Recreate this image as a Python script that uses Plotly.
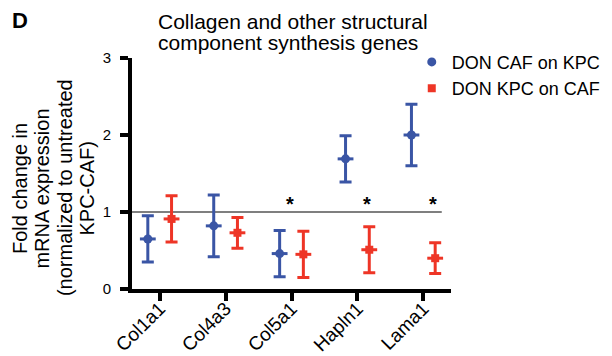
import plotly.graph_objects as go

# ---- data ----
genes = ["Col1a1", "Col4a3", "Col5a1", "Hapln1", "Lama1"]
caf_on_kpc_mean = [0.65, 0.82, 0.46, 1.69, 2.00]
caf_on_kpc_sd = [0.30, 0.40, 0.30, 0.30, 0.40]
kpc_on_caf_mean = [0.91, 0.73, 0.45, 0.51, 0.40]
kpc_on_caf_sd = [0.30, 0.20, 0.30, 0.30, 0.20]
significant = ["", "", "*", "*", "*"]
y_ticks = [0, 1, 2, 3]

BLUE = "#3a55a5"
RED = "#ee3526"
FONT = "Liberation Sans, Arial, Helvetica, sans-serif"
off = 0.18

idx = list(range(len(genes)))

fig = go.Figure()
series = [
    ("DON CAF on KPC", caf_on_kpc_mean, caf_on_kpc_sd, BLUE, "circle", 9, -off),
    ("DON KPC on CAF", kpc_on_caf_mean, kpc_on_caf_sd, RED, "square", 8, off),
]
for name, m, sd, col, sym, sz, dx in series:
    fig.add_trace(go.Scatter(
        x=[i + dx for i in idx], y=m, mode="markers", name=name,
        marker=dict(color=col, symbol=sym, size=sz, line=dict(width=0)),
        error_y=dict(type="data", array=sd, visible=True, color=col,
                     thickness=3, width=6),
        error_x=dict(type="data", array=[0.12] * len(m), visible=True,
                     color=col, thickness=3, width=0),
    ))

# reference line at 1
fig.add_shape(type="line", xref="x", yref="y", x0=-0.42, x1=4.28, y0=1, y1=1,
              line=dict(color="#555555", width=1.5), layer="below")

# significance asterisks
for i, s in enumerate(significant):
    if s:
        xpos = i if genes[i] == "Col5a1" else i + off
        fig.add_annotation(x=xpos - 0.03, y=1.1, xref="x", yref="y", text="<b>" + s + "</b>",
                           showarrow=False, font=dict(size=20, color="black", family=FONT))

# title (two lines, tight leading)
fig.add_annotation(x=0.075, y=1.158, xref="paper", yref="paper", xanchor="left", yanchor="middle",
                   text="Collagen and other structural", showarrow=False,
                   font=dict(size=21, color="black", family=FONT))
fig.add_annotation(x=0.075, y=1.0665, xref="paper", yref="paper", xanchor="left", yanchor="middle",
                   text="component synthesis genes", showarrow=False,
                   font=dict(size=21, color="black", family=FONT))
# panel letter
fig.add_annotation(x=-0.3824, y=1.1615, xref="paper", yref="paper", xanchor="left", yanchor="middle",
                   text="<b>D</b>", showarrow=False,
                   font=dict(size=22, color="black", family=FONT))

# y-axis title lines
ytitle = ["Fold change in", "mRNA expression", "(normalized to untreated", "KPC-CAF)"]
ypos_x = [-0.3511, -0.2806, -0.2100, -0.1395]
for t, xp in zip(ytitle, ypos_x):
    fig.add_annotation(x=xp, y=0.437, xref="paper", yref="paper", xanchor="center", yanchor="middle",
                       text=t, textangle=-90, showarrow=False,
                       font=dict(size=20, color="black", family=FONT))

# page body has an 8px margin, so the figure is 8px smaller and offsets are reduced by 8
fig.update_layout(
    width=604, height=348,
    margin=dict(l=124, r=161, t=50, b=67, autoexpand=False),
    paper_bgcolor="white", plot_bgcolor="white",
    font=dict(family=FONT, color="black"),
    showlegend=True,
    legend=dict(x=0.877, y=1.062, xanchor="left", yanchor="top",
                font=dict(size=18, family=FONT, color="black"),
                bgcolor="rgba(0,0,0,0)", tracegroupgap=0),
    xaxis=dict(range=[-0.42, 4.42], tickvals=idx, ticktext=genes, tickangle=-45,
               automargin=False, ticklabelstandoff=-11,
               showgrid=False, zeroline=False, showline=True, linecolor="black",
               linewidth=4, ticks="outside", ticklen=8, tickwidth=4, tickcolor="black",
               tickfont=dict(size=19, family=FONT, color="black")),
    yaxis=dict(range=[0, 3], tickvals=y_ticks, showgrid=False, zeroline=False,
               automargin=False, ticklabelstandoff=6,
               showline=True, linecolor="black", linewidth=4, ticks="outside",
               ticklen=8, tickwidth=4, tickcolor="black",
               tickfont=dict(size=15, family=FONT, color="black")),
)

fig.write_html("out.html")
